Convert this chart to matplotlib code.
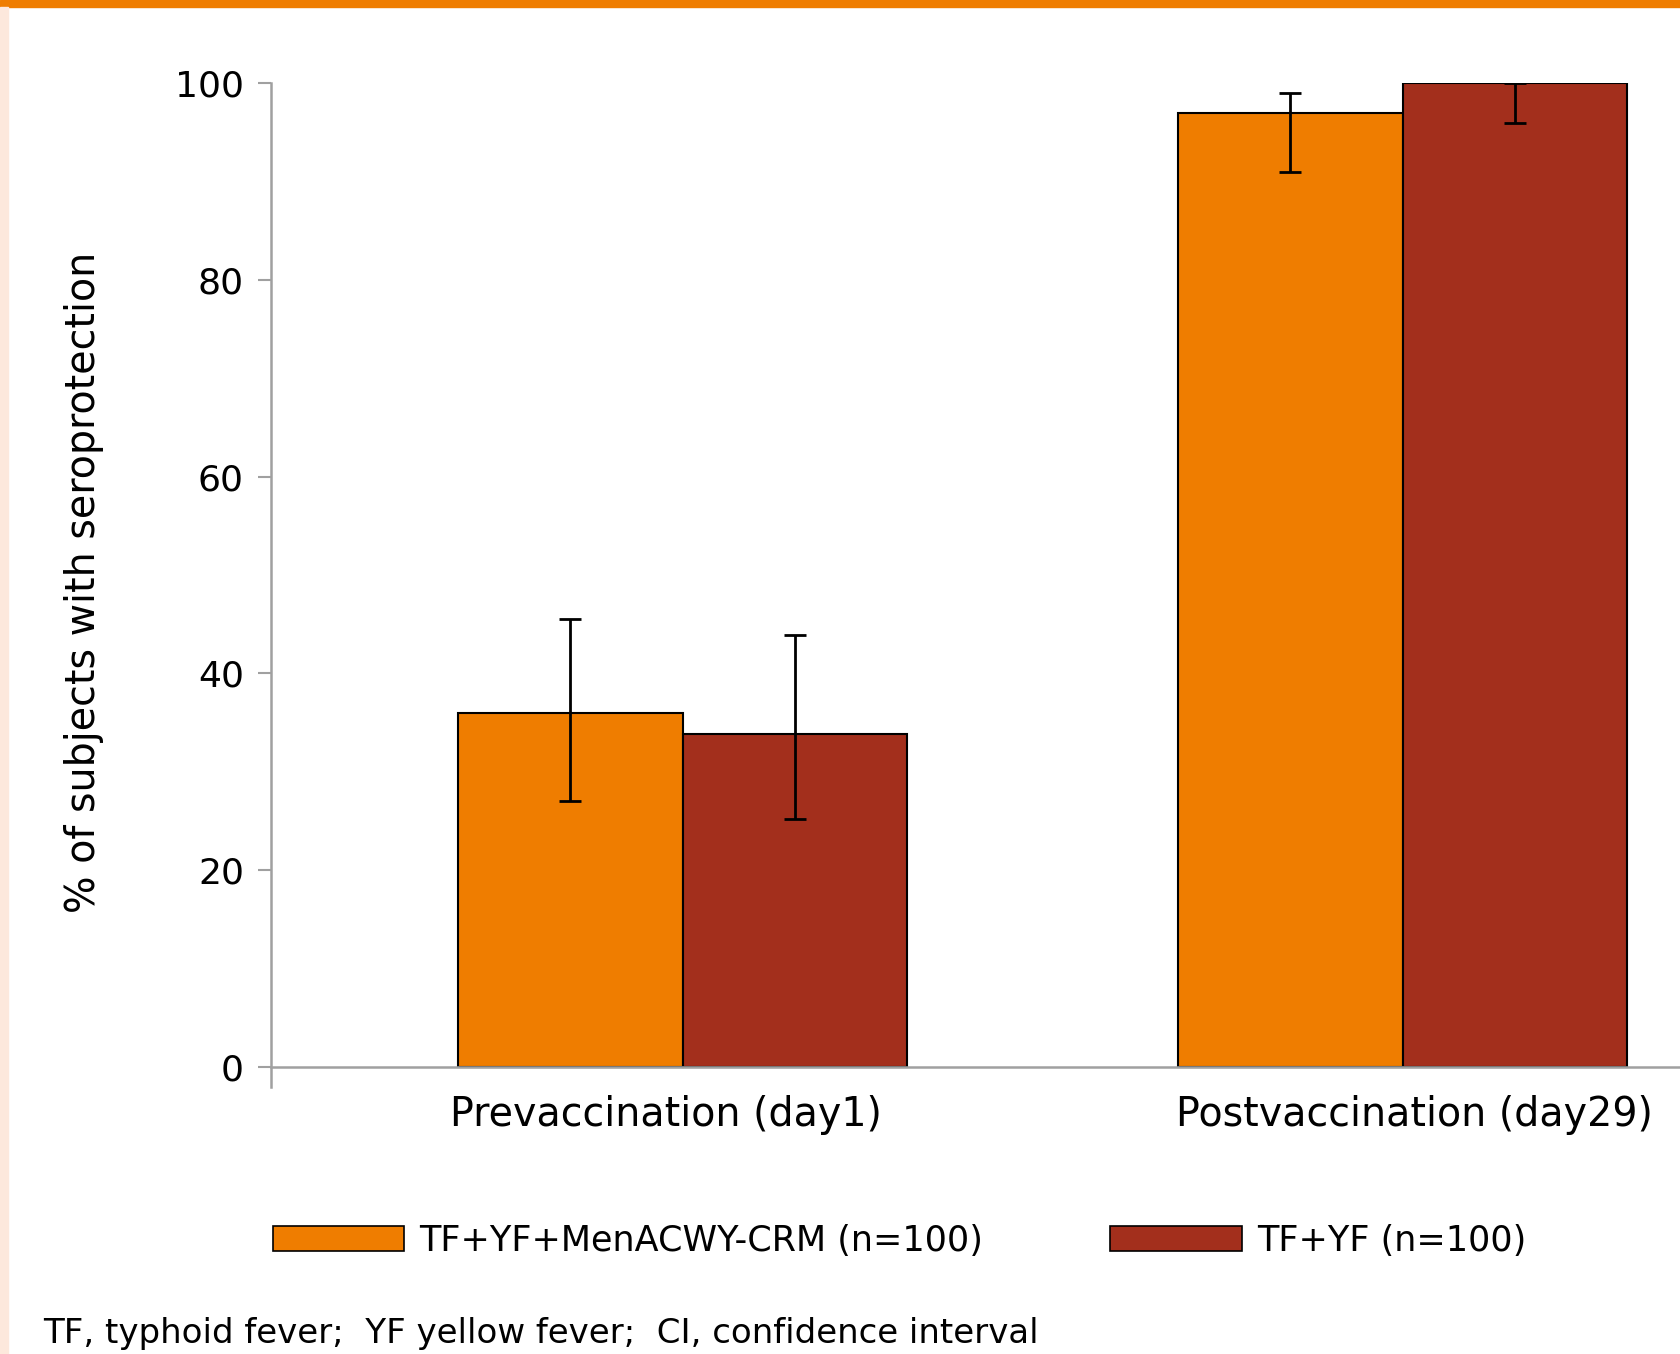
import matplotlib
matplotlib.use("Agg")
import matplotlib.pyplot as plt
from matplotlib.patches import Rectangle, Patch
from matplotlib.transforms import ScaledTranslation
import numpy as np

plt.rcParams['font.family'] = ['DejaVu Sans']

categories = ["Prevaccination (day1)", "Postvaccination (day29)"]
series_names = ["TF+YF+MenACWY-CRM (n=100)", "TF+YF (n=100)"]
menacwy_vals = [36, 97]
menacwy_lo = [27, 91]
menacwy_hi = [45.5, 99]
tfyf_vals = [33.8, 100]
tfyf_lo = [25.2, 95.9]
tfyf_hi = [43.9, 100]
yticks = [0, 20, 40, 60, 80, 100]

orange = "#EF7D00"
red = "#A32F1C"
grey = "#A0A0A0"

W, H = 1680, 1354
fig = plt.figure(figsize=(W / 100, H / 100), dpi=100)

# decorative frame strips
fig.patches.append(Rectangle((0, 1 - 7 / H), 1, 7 / H, transform=fig.transFigure,
                             color=orange, zorder=0))
fig.patches.append(Rectangle((0, 0), 8 / W, 1 - 7 / H, transform=fig.transFigure,
                             color="#FDE8DC", zorder=0))

ax = fig.add_axes([271 / W, 267 / H, (W - 271) / W, (1087 - 83) / H])
for s in ["top", "right"]:
    ax.spines[s].set_visible(False)
ax.spines["bottom"].set_position(("data", 0))
ax.spines["left"].set_color(grey)
ax.spines["left"].set_linewidth(1.8)
ax.spines["bottom"].set_color(grey)
ax.spines["bottom"].set_linewidth(1.8)

x = np.arange(len(categories))
w = 0.312

def err(vals, lo, hi):
    v = np.array(vals, float)
    return np.vstack([v - np.array(lo), np.array(hi) - v])

ax.bar(x - w / 2, menacwy_vals, w, color=orange, edgecolor="black", linewidth=1.5, zorder=2)
ax.bar(x + w / 2, tfyf_vals, w, color=red, edgecolor="black", linewidth=1.5, zorder=2)
ax.errorbar(x - w / 2, menacwy_vals, yerr=err(menacwy_vals, menacwy_lo, menacwy_hi),
            fmt="none", ecolor="black", elinewidth=2, capsize=8, capthick=2, zorder=3)
ax.errorbar(x + w / 2, tfyf_vals, yerr=err(tfyf_vals, tfyf_lo, tfyf_hi),
            fmt="none", ecolor="black", elinewidth=2, capsize=8, capthick=2, zorder=3)

ax.set_xlim(-0.5715, 1.385)
ax.set_ylim(-2.03, 100)
ax.set_yticks(yticks)
ax.set_yticklabels([str(t) for t in yticks], fontsize=26)
ax.set_xticks(x)
ax.set_xticklabels(categories, fontsize=28.5)
ax.tick_params(axis="x", length=0, pad=20)
ax.tick_params(axis="y", length=9.5, width=1.5, color=grey, pad=10)

# small horizontal nudges of the category labels, as in the original layout
for lab, dx in zip(ax.get_xticklabels(), [-0.17, 0.12]):
    lab.set_transform(lab.get_transform() + ScaledTranslation(dx, 0, fig.dpi_scale_trans))

ax.set_ylabel("% of subjects with seroprotection", fontsize=28.5)
ax.yaxis.set_label_coords((104 - 271) / 1409, (1087 - 582) / 1004)

handles = [Patch(facecolor=orange, edgecolor="black", linewidth=1.2),
           Patch(facecolor=red, edgecolor="black", linewidth=1.2)]
fig.legend(handles, series_names, loc="center left",
           bbox_to_anchor=(273 / W, 1 - 1241 / H), ncol=2, frameon=False,
           fontsize=25.2, handlelength=3.75, handleheight=0.74, handletextpad=0.43,
           columnspacing=3.63, borderpad=0, borderaxespad=0)

fig.text(43 / W, 1 - 1334 / H,
         "TF, typhoid fever;  YF yellow fever;  CI, confidence interval",
         fontsize=24.5, va="center", ha="left")

fig.savefig("out.png", dpi=100)
